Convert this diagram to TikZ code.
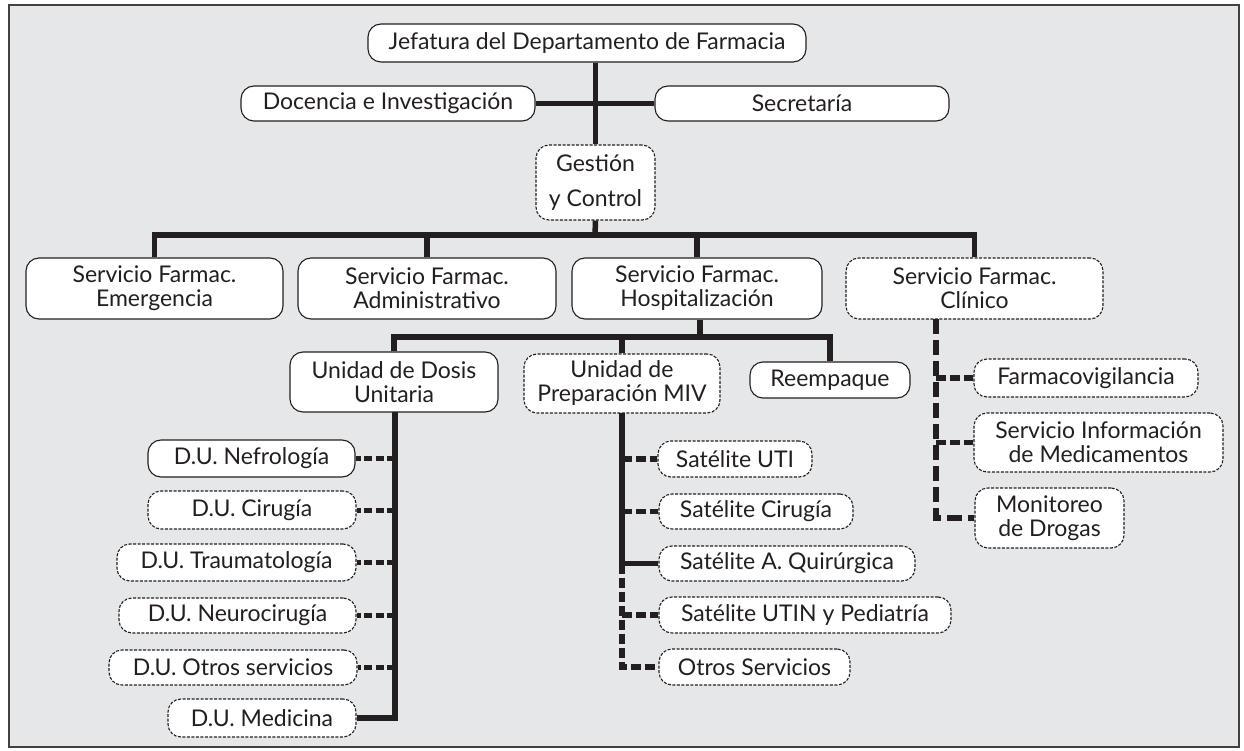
\documentclass[tikz,border=0pt]{standalone}
\usepackage{fontspec}
\setmainfont{Lato}
\definecolor{bg}{HTML}{E6E7E8}
\definecolor{ink}{HTML}{231F20}
\begin{document}
\begin{tikzpicture}[x=1pt,y=-1pt,
  box/.style={draw=ink, line width=1.1pt, fill=white, rounded corners=13pt, inner sep=0pt, align=center, font=\fontsize{23}{24}\selectfont, text=ink},
  dbox/.style={box, dash pattern=on 3pt off 1.5pt},
  link/.style={line width=5.5pt, draw=ink, line join=miter},
  dlink/.style={link, dash pattern=on 10pt off 4pt},
  dulink/.style={link, line width=5pt, dash pattern=on 8pt off 3.5pt},
  clink/.style={link, dash pattern=on 15pt off 6pt}]
\useasboundingbox (0,0) rectangle (1244,751);
\draw[fill=bg, draw=ink!85, line width=2.5pt] (9,5) rectangle (1239,747);

% nodes
\node[box, minimum width=438pt, minimum height=38pt] (jef) at (587,43) {Jefatura del Departamento de Farmacia};
\node[box, minimum width=294pt, minimum height=35pt] (doc) at (388,103.5) {Docencia e Investigación};
\node[box, minimum width=294pt, minimum height=35pt] (sec) at (802,103.5) {Secretaría};
\node[dbox, minimum width=119pt, minimum height=75pt] (ges) at (595.5,182.5) {Gestión\\[11pt]y Control};

\node[box, minimum width=257pt, minimum height=61pt] (emer) at (154.5,288.5) {Servicio Farmac.\\Emergencia};
\node[box, minimum width=258pt, minimum height=61pt] (adm) at (427,288.5) {Servicio Farmac.\\Administrativo};
\node[box, minimum width=250pt, minimum height=61pt] (hosp) at (697,288.5) {Servicio Farmac.\\Hospitalización};
\node[dbox, minimum width=257pt, minimum height=61pt] (clin) at (974.5,288.5) {Servicio Farmac.\\Clínico};

\node[box, minimum width=208pt, minimum height=60pt] (udu) at (394,382) {Unidad de Dosis\\Unitaria};
\node[dbox, minimum width=196pt, minimum height=59pt] (miv) at (622,383.5) {Unidad de\\Preparación MIV};
\node[box, minimum width=160pt, minimum height=36pt] (reem) at (830,380) {Reempaque};

\node[dbox, minimum width=224pt, minimum height=38pt] (farm) at (1086,378) {Farmacovigilancia};
\node[dbox, minimum width=249pt, minimum height=59pt] (sim) at (1098.5,442.5) {Servicio Información\\de Medicamentos};
\node[dbox, minimum width=149pt, minimum height=60pt] (mon) at (1049.5,518) {Monitoreo\\de Drogas};

\node[box, minimum width=207pt, minimum height=37pt] (dun) at (251.5,458.5) {D.U. Nefrología};
\node[dbox, minimum width=208pt, minimum height=38pt] (duc) at (252,510) {D.U. Cirugía};
\node[dbox, minimum width=239pt, minimum height=37pt] (dut) at (236.5,562.5) {D.U. Traumatología};
\node[dbox, minimum width=237pt, minimum height=35pt] (dune) at (237.5,615.5) {D.U. Neurocirugía};
\node[dbox, minimum width=248pt, minimum height=35pt] (duo) at (233,667.5) {D.U. Otros servicios};
\node[dbox, minimum width=188pt, minimum height=38pt] (dum) at (262,718) {D.U. Medicina};

\node[dbox, minimum width=154pt, minimum height=36pt] (suti) at (735,459) {Satélite UTI};
\node[dbox, minimum width=194pt, minimum height=35pt] (scir) at (756,511.5) {Satélite Cirugía};
\node[dbox, minimum width=256pt, minimum height=35pt] (saq) at (787,563.5) {Satélite A. Quirúrgica};
\node[dbox, minimum width=292pt, minimum height=36pt] (sutin) at (805,615) {Satélite UTIN y Pediatría};
\node[dbox, minimum width=191pt, minimum height=36pt] (sotr) at (754.5,667) {Otros Servicios};

% coordinates
\coordinate (busA) at (595,235);
\coordinate (busB) at (700,337);
\coordinate (vu) at (395,412);
\coordinate (vm) at (622,413);
\coordinate (vc) at (936,319);

% connectors
\draw[link] (ges.north |- jef.south) -- (ges.north);
\draw[link] (doc.east) -- (sec.west);
\draw[link] (ges.south) -- (busA);
\draw[link] (emer.north) -- (emer.north |- busA) -- (clin.north |- busA) -- (clin.north);
\draw[link] (adm.north) -- (adm.north |- busA);
\draw[link] (busB |- hosp.south) -- (busB);
\draw[link] (hosp.north |- busA) -- (hosp.north);
\draw[link] (udu.north) -- (udu.north |- busB) -- (reem.north |- busB) -- (reem.north);
\draw[link] (miv.north) -- (miv.north |- busB);

% D.U. branch
\draw[link] (vu) -- (vu |- dum.east) -- (dum.east);
\foreach \n in {dun,duc,dut,dune,duo} \draw[dulink] (vu |- \n.east) -- (\n.east);

% MIV branch
\draw[link] (vm) -- (vm |- saq.west) -- (saq.west);
\draw[dlink] (vm |- saq.west) -- (vm |- sotr.west) -- (sotr.west);
\foreach \n in {suti,scir,sutin} \draw[dlink] (vm |- \n.west) -- (\n.west);

% Clinico branch
\draw[clink] (vc) -- (vc |- mon.west) -- (mon.west);
\foreach \n in {farm,sim} \draw[dlink] (vc |- \n.west) -- (\n.west);
\end{tikzpicture}
\end{document}
